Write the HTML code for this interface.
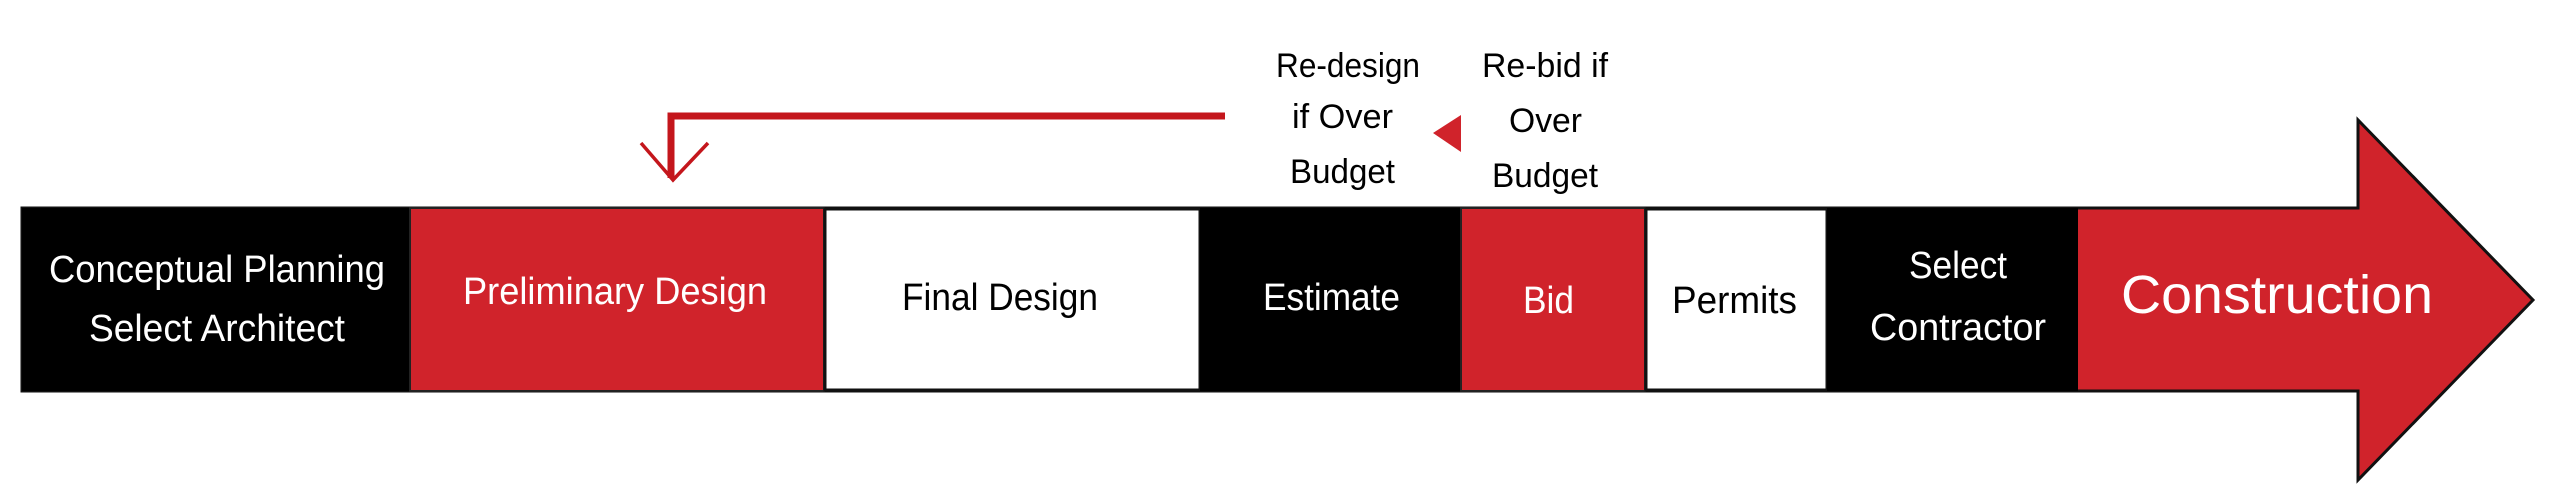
<!DOCTYPE html>
<html><head><meta charset="utf-8"><style>
html,body{margin:0;padding:0;background:#fff;}
svg{display:block;}
text{font-family:"Liberation Sans",sans-serif;}
</style></head><body>
<svg width="2560" height="497" viewBox="0 0 2560 497" xmlns="http://www.w3.org/2000/svg">
<!-- main arrow -->
<polygon points="22,208 2358,208 2358,120 2533,300 2358,480 2358,391 22,391" fill="#d0232b" stroke="#111" stroke-width="3"/>
<!-- segments -->
<rect x="22" y="208" width="388" height="183" fill="#000"/>
<rect x="410" y="208" width="414" height="183" fill="#d0232b" stroke="#222" stroke-width="2"/>
<rect x="825" y="209" width="375" height="181" fill="#fff" stroke="#111" stroke-width="3"/>
<rect x="1200" y="208" width="261" height="183" fill="#000"/>
<rect x="1461" y="208" width="184" height="183" fill="#d0232b" stroke="#222" stroke-width="2"/>
<rect x="1646" y="209" width="181" height="181" fill="#fff" stroke="#111" stroke-width="3"/>
<rect x="1827" y="208" width="251" height="183" fill="#000"/>
<!-- segment labels -->
<g fill="#fff" font-size="38">
<text x="49" y="282" textLength="336" lengthAdjust="spacingAndGlyphs">Conceptual Planning</text>
<text x="89" y="341" textLength="256" lengthAdjust="spacingAndGlyphs">Select Architect</text>
<text x="463" y="304" textLength="304" lengthAdjust="spacingAndGlyphs">Preliminary Design</text>
<text x="1263" y="310" textLength="137" lengthAdjust="spacingAndGlyphs">Estimate</text>
<text x="1523" y="313" textLength="51" lengthAdjust="spacingAndGlyphs">Bid</text>
<text x="1909" y="278" textLength="98" lengthAdjust="spacingAndGlyphs">Select</text>
<text x="1870" y="340" textLength="176" lengthAdjust="spacingAndGlyphs">Contractor</text>
<text x="2121" y="313" font-size="54" textLength="312" lengthAdjust="spacingAndGlyphs">Construction</text>
</g>
<g fill="#000" font-size="38">
<text x="902" y="310" textLength="196" lengthAdjust="spacingAndGlyphs">Final Design</text>
<text x="1672" y="313" textLength="125" lengthAdjust="spacingAndGlyphs">Permits</text>
</g>
<!-- upper labels -->
<g fill="#000" font-size="34">
<text x="1276" y="77" textLength="144" lengthAdjust="spacingAndGlyphs">Re-design</text>
<text x="1292" y="128" textLength="101" lengthAdjust="spacingAndGlyphs">if Over</text>
<text x="1290" y="183" textLength="105" lengthAdjust="spacingAndGlyphs">Budget</text>
<text x="1482" y="77" textLength="126" lengthAdjust="spacingAndGlyphs">Re-bid if</text>
<text x="1509" y="132" textLength="73" lengthAdjust="spacingAndGlyphs">Over</text>
<text x="1492" y="187" textLength="106" lengthAdjust="spacingAndGlyphs">Budget</text>
</g>
<!-- small triangle -->
<polygon points="1433,133 1461,115 1461,152" fill="#d0232b"/>
<!-- return connector -->
<polyline points="1225,116 671,116 671,178" fill="none" stroke="#c4161c" stroke-width="7"/>
<polyline points="641,143 673,180 708,143" fill="none" stroke="#c4161c" stroke-width="3.5"/>
</svg>
</body></html>
